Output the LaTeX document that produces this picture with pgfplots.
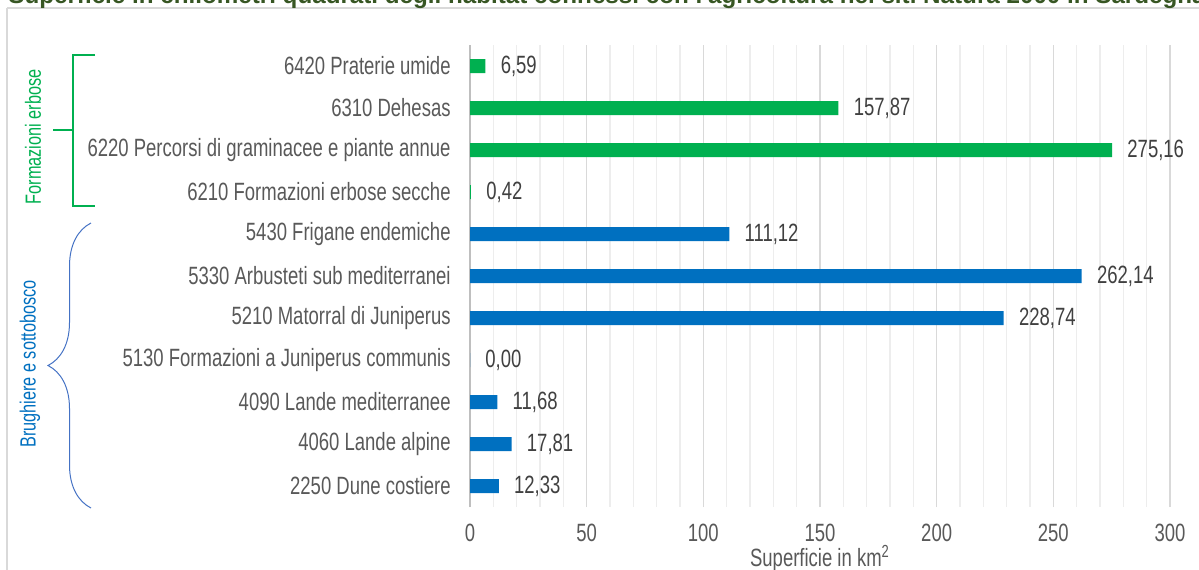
\documentclass[border=0pt]{standalone}
\usepackage{fontspec}
\setmainfont{Liberation Sans}[FakeStretch=0.74]
\newfontfamily\titlefont{Liberation Sans}
\usepackage{pgfplots}
\pgfplotsset{compat=1.18}
\usetikzlibrary{decorations.pathreplacing}
\definecolor{barG}{HTML}{00B050}
\definecolor{barB}{HTML}{0070C0}
\definecolor{brc}{HTML}{4472C4}
\definecolor{ttl}{HTML}{375623}
\definecolor{lbl}{HTML}{595959}
\definecolor{val}{HTML}{404040}
\definecolor{grd}{HTML}{D9D9D9}
\definecolor{mgrd}{HTML}{EDEDED}
\definecolor{axc}{HTML}{BFBFBF}

\begin{document}
\fontsize{12.5pt}{14pt}\selectfont
\begin{tikzpicture}[x=0.5pt,y=-0.5pt]
\useasboundingbox (0,0) rectangle (1199,569);
% chart frame
\draw[grd, line width=0.6pt] (7,8) -- (1230,8);
\draw[grd, line width=0.6pt] (7,8) -- (7,600);
% title (cut at the top as in the source)
\node[anchor=base west, inner sep=0pt, text=ttl, font=\titlefont\fontsize{12.1pt}{14pt}\selectfont\bfseries] at (8,3)
  {Superficie in chilometri quadrati degli habitat connessi con l'agricoltura nei siti Natura 2000 in Sardegna};

\begin{axis}[
  at={(235pt,-253.5pt)}, anchor=south west,
  scale only axis, width=350pt, height=231pt,
  xbar, bar width=7pt, bar shift=0pt,
  xmin=0, xmax=300, ymin=-0.5, ymax=10.5,
  xtick={0,50,...,300}, minor x tick num=4,
  ytick={0,...,10},
  yticklabels={2250 Dune costiere, 4060 Lande alpine, 4090 Lande mediterranee,
    5130 Formazioni a Juniperus communis, 5210 Matorral di Juniperus,
    5330 Arbusteti sub mediterranei, 5430 Frigane endemiche,
    6210 Formazioni erbose secche, 6220 Percorsi di graminacee e piante annue,
    6310 Dehesas, 6420 Praterie umide},
  xmajorgrids, xminorgrids,
  major grid style={grd, line width=0.6pt},
  minor grid style={mgrd, line width=0.6pt},
  axis lines*=left,
  x axis line style={draw=none},
  y axis line style={draw=axc, line width=0.8pt, -},
  major tick length=0pt, minor tick length=0pt,
  /pgf/number format/assume math mode=true,
  xticklabel style={anchor=north, inner sep=0pt, yshift=-8.5pt, text=lbl},
  yticklabel style={anchor=east, inner sep=0pt, xshift=-9.5pt, text=lbl},
  xlabel={Superficie in km\textsuperscript{2}},
  xlabel style={at={(axis description cs:0.5,0)}, anchor=base, inner sep=0pt, yshift=-29.5pt, text=lbl},
  nodes near coords={\pgfmathprintnumber[fixed,fixed zerofill,precision=2,use comma,assume math mode=true]{\pgfplotspointmeta}},
  nodes near coords style={anchor=west, inner sep=0pt, xshift=7.5pt, text=val},
]
\addplot[fill=barB, draw=none] coordinates {
  (12.33,0) (17.81,1) (11.68,2) (0.00,3) (228.74,4) (262.14,5) (111.12,6)};
\addplot[fill=barG, draw=none] coordinates {
  (0.42,7) (275.16,8) (157.87,9) (6.59,10)};
\end{axis}

% group bracket: Formazioni erbose
\draw[barG, line width=0.75pt] (95,55) -- (73,55) -- (73,206) -- (95,206);
\draw[barG, line width=0.75pt] (53,130) -- (73,130);
\node[rotate=90, text=barG, inner sep=0pt, font=\fontsize{11pt}{13pt}\selectfont] at (33,137) {Formazioni erbose};
% group brace: Brughiere e sottobosco
\draw[brc, line width=0.5pt, decorate, decoration={brace, amplitude=21.5pt}] (91,508) -- (91,223);
\node[rotate=90, text=barB, inner sep=0pt, font=\fontsize{11pt}{13pt}\selectfont] at (30,364) {Brughiere e sottobosco};
\end{tikzpicture}
\end{document}
